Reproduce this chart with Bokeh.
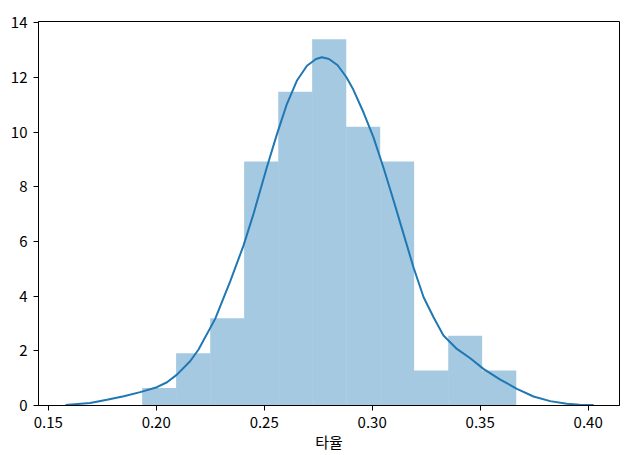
from bokeh.plotting import figure
from bokeh.models import Range1d, SingleIntervalTicker, NumeralTickFormatter
from bokeh.embed import file_html
from bokeh.resources import INLINE

# Histogram (density)
bin_edges = [0.1935, 0.2092, 0.2250, 0.2407, 0.2565, 0.2722, 0.2880,
             0.3037, 0.3194, 0.3352, 0.3509, 0.3667]
bin_density = [0.64, 1.91, 3.19, 8.93, 11.48, 13.40, 10.20, 8.93, 1.28, 2.55, 1.28]

# KDE curve
kde_x = [0.158, 0.1694, 0.1772, 0.1850, 0.1926, 0.2003, 0.2050, 0.2096, 0.2157,
         0.2196, 0.2273, 0.2343, 0.2404, 0.2450, 0.2512, 0.2559, 0.2605, 0.2651,
         0.2698, 0.2740, 0.2767, 0.2800, 0.2840, 0.2880, 0.2913, 0.2960, 0.3006,
         0.3052, 0.3099, 0.3145, 0.3191, 0.3238, 0.3284, 0.3330, 0.3392, 0.3454,
         0.3515, 0.3593, 0.3670, 0.3747, 0.3824, 0.3901, 0.3960, 0.4025]
kde_y = [0.02, 0.09, 0.21, 0.34, 0.49, 0.67, 0.85, 1.13, 1.62,
         2.05, 3.17, 4.55, 5.85, 7.00, 8.71, 9.93, 11.03, 11.88,
         12.43, 12.68, 12.74, 12.68, 12.45, 12.02, 11.55, 10.72, 9.81,
         8.71, 7.50, 6.28, 5.06, 3.96, 3.23, 2.56, 2.07, 1.73,
         1.34, 0.95, 0.61, 0.33, 0.16, 0.06, 0.03, 0.02]

x_label = "타율"

FONT = "Noto Sans CJK KR"

p = figure(width=643, height=455, output_backend="svg", toolbar_location=None,
           x_range=Range1d(0.1455, 0.4145), y_range=Range1d(0, 14.05),
           min_border_left=38, min_border_right=24, min_border_top=21,
           min_border_bottom=50)

p.quad(left=bin_edges[:-1], right=bin_edges[1:], bottom=0, top=bin_density,
       fill_color="#1f77b4", fill_alpha=0.4, line_color=None)
p.line(kde_x, kde_y, line_color="#1f77b4", line_width=2)

p.grid.visible = False
p.outline_line_color = "black"
p.outline_line_width = 1
p.outline_line_alpha = 1

p.xaxis.ticker = SingleIntervalTicker(interval=0.05)
p.xaxis.formatter = NumeralTickFormatter(format="0.00")
p.yaxis.ticker = SingleIntervalTicker(interval=2)
p.yaxis.formatter = NumeralTickFormatter(format="0")

for ax in (p.xaxis[0], p.yaxis[0]):
    ax.axis_line_color = "black"
    ax.major_tick_line_color = "black"
    ax.major_tick_out = 5
    ax.major_tick_in = 0
    ax.minor_tick_line_color = None
    ax.major_label_text_font = FONT
    ax.major_label_text_font_size = "15px"
    ax.major_label_text_color = "black"

p.xaxis.major_label_standoff = 6
p.yaxis.major_label_standoff = 6
p.xaxis.axis_label = x_label
p.xaxis.axis_label_text_font = FONT
p.xaxis.axis_label_text_font_size = "15px"
p.xaxis.axis_label_text_font_style = "normal"
p.xaxis.axis_label_text_color = "black"
p.xaxis.axis_label_standoff = 0

open("out.html", "w").write(file_html(p, INLINE))
